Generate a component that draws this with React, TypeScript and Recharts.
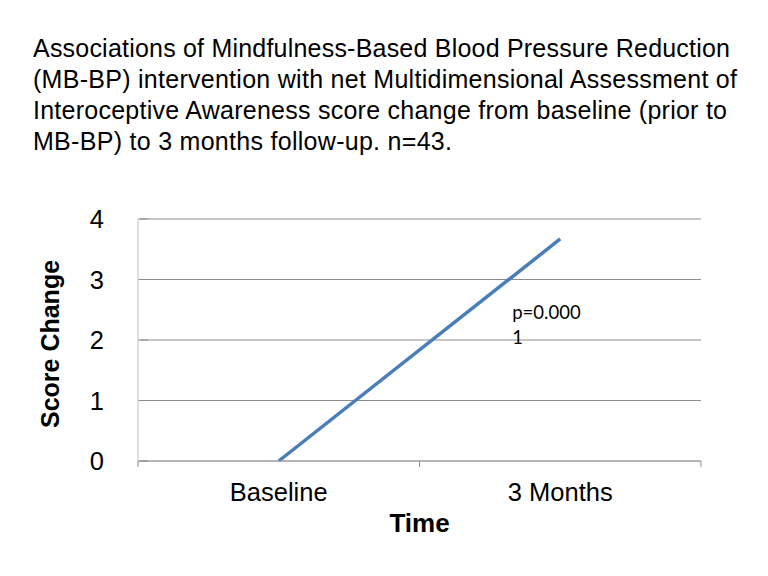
import React from "react";
import { LineChart, Line, XAxis, YAxis, CartesianGrid } from "recharts";

const titleLines = [
  "Associations of Mindfulness-Based Blood Pressure Reduction",
  "(MB-BP) intervention with net Multidimensional Assessment of",
  "Interoceptive Awareness score change from baseline (prior to",
  "MB-BP) to 3 months follow-up. n=43.",
];
const titleLengths = [697, 704, 694, 419];
const categories = ["Baseline", "3 Months"];
const scoreChange = [0, 3.67];
const yTicks = [0, 1, 2, 3, 4];
const annotationLines = ["p=0.000", "1"];

const data = categories.map((c, i) => ({ pos: i + 0.5, name: c, score: scoreChange[i] }));
const xTicks = [0, 0.5, 1, 1.5, 2];

const FONT = "'Liberation Sans', Arial, sans-serif";

const XTick = (props: any) => {
  const { x, y, payload } = props;
  const v = payload.value;
  if (Number.isInteger(v)) {
    return <line x1={x} x2={x} y1={y} y2={y + 6} stroke="#8c8c8c" strokeWidth={1} />;
  }
  const label = categories[Math.floor(v)];
  return (
    <text x={x} y={y + 40} textAnchor="middle" fontSize={25.5} fontFamily={FONT} fill="#000">
      {label}
    </text>
  );
};

const YTick = (props: any) => {
  const { x, y, payload } = props;
  return (
    <g>
      <line x1={x + 2} x2={x + 10} y1={y} y2={y} stroke="#8c8c8c" strokeWidth={1} />
      <text x={104} y={y + 9} textAnchor="end" fontSize={25.5} fontFamily={FONT} fill="#000">
        {payload.value}
      </text>
    </g>
  );
};

export default function App() {
  return (
    <div style={{ position: "absolute", left: 0, top: 0, width: 768, height: 576, background: "#fff" }}>
      <svg width={768} height={576} style={{ position: "absolute", left: 0, top: 0 }}>
        {titleLines.map((t, i) => (
          <text
            key={i}
            x={33}
            y={57 + i * 31}
            fontSize={25}
            fontFamily={FONT}
            fill="#000"
            textLength={titleLengths[i]}
            lengthAdjust="spacing"
          >
            {t}
          </text>
        ))}
        <text
          x={59}
          y={344}
          transform="rotate(-90, 59, 344)"
          textAnchor="middle"
          fontSize={25}
          fontWeight="bold"
          fontFamily={FONT}
          fill="#000"
        >
          Score Change
        </text>
      </svg>
      <div style={{ position: "absolute", left: 0, top: 0 }}>
        <LineChart
          width={768}
          height={576}
          data={data}
          margin={{ top: 219, right: 67, bottom: 0, left: 0 }}
        >
          <CartesianGrid vertical={false} stroke="#8c8c8c" strokeWidth={1} />
          <XAxis
            dataKey="pos"
            type="number"
            domain={[0, 2]}
            ticks={xTicks}
            interval={0}
            tickLine={false}
            tickSize={0}
            tickMargin={0}
            tick={<XTick />}
            axisLine={{ stroke: "#a6a6a6" }}
            height={115}
            label={{
              value: "Time",
              position: "insideTop",
              offset: 53,
              fontSize: 26,
              fontWeight: "bold",
              fontFamily: FONT,
              fill: "#000",
            }}
          />
          <YAxis
            type="number"
            domain={[0, 4]}
            ticks={yTicks}
            width={138}
            tickLine={false}
            tickSize={0}
            tickMargin={0}
            tick={<YTick />}
            axisLine={{ stroke: "#c0c0c0" }}
          />
          <Line
            dataKey="score"
            stroke="#4a7ebb"
            strokeWidth={3.5}
            dot={false}
            isAnimationActive={false}
            label={(p: any) => {
              if (p.index !== 1) return null;
              return (
                <text fontSize={18.5} fontFamily="Lato, 'Open Sans', sans-serif" fill="#000">
                  {annotationLines.map((l, i) => (
                    <tspan key={i} x={p.x - 48} y={p.y + 80 + i * 25}>
                      {l}
                    </tspan>
                  ))}
                </text>
              );
            }}
          />
        </LineChart>
      </div>
    </div>
  );
}
